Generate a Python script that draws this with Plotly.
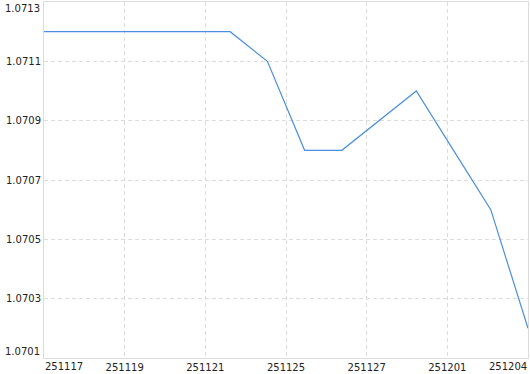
import plotly.graph_objects as go

dates = ["251117", "251118", "251119", "251120", "251121", "251124", "251125",
         "251126", "251127", "251128", "251201", "251202", "251203", "251204"]
values = [1.0712, 1.0712, 1.0712, 1.0712, 1.0712, 1.0712, 1.0711,
          1.0708, 1.0708, 1.0709, 1.0710, 1.0708, 1.0706, 1.0702]
x_tick_labels = ["251117", "251119", "251121", "251125", "251127", "251201", "251204"]
y_tick_vals = [1.0701, 1.0703, 1.0705, 1.0707, 1.0709, 1.0711, 1.0713]

n = len(dates)
xs = list(range(n))
x_max = n - 1
x_tick_pos = [x_max * k / (len(x_tick_labels) - 1) for k in range(len(x_tick_labels))]

FONT = dict(family="DejaVu Sans", size=10, color="#222")
GRID = "#dcdcdc"

fig = go.Figure()
fig.add_trace(go.Scatter(x=xs, y=values, mode="lines",
                         line=dict(color="#4a8fe0", width=1.2),
                         hoverinfo="skip"))

fig.update_layout(
    width=530, height=374,
    margin=dict(l=44, r=1, t=1, b=13),
    paper_bgcolor="white", plot_bgcolor="white",
    showlegend=False,
    font=FONT,
)

fig.update_xaxes(
    range=[0, x_max],
    tickmode="array",
    tickvals=x_tick_pos[1:-1],
    ticktext=x_tick_labels[1:-1],
    showgrid=True, gridcolor=GRID, griddash="4px,3px", gridwidth=1,
    showline=True, linecolor=GRID, linewidth=1, mirror=True,
    ticks="", ticklen=0, zeroline=False,
    tickfont=FONT,
)
fig.update_yaxes(
    range=[y_tick_vals[0], y_tick_vals[-1]],
    tickmode="array",
    tickvals=y_tick_vals[1:-1],
    ticktext=[f"{v:.4f}" for v in y_tick_vals[1:-1]],
    showgrid=True, gridcolor=GRID, griddash="4px,3px", gridwidth=1,
    showline=True, linecolor=GRID, linewidth=1, mirror=True,
    ticks="", ticklen=0, zeroline=False,
    tickfont=FONT,
)

# end labels shifted to stay inside the canvas
fig.add_annotation(x=x_tick_pos[0], y=0, xref="x", yref="paper", yanchor="top",
                   xanchor="left", text=x_tick_labels[0], showarrow=False,
                   font=FONT, xshift=-1, yshift=-1)
fig.add_annotation(x=x_tick_pos[-1], y=0, xref="x", yref="paper", yanchor="top",
                   xanchor="right", text=x_tick_labels[-1], showarrow=False,
                   font=FONT, xshift=1, yshift=-1)
fig.add_annotation(x=0, y=y_tick_vals[-1], xref="paper", yref="y", yanchor="top",
                   xanchor="right", text=f"{y_tick_vals[-1]:.4f}", showarrow=False,
                   font=FONT, xshift=-2, yshift=1)
fig.add_annotation(x=0, y=y_tick_vals[0], xref="paper", yref="y", yanchor="bottom",
                   xanchor="right", text=f"{y_tick_vals[0]:.4f}", showarrow=False,
                   font=FONT, xshift=-2, yshift=-1)

fig.write_html("out.html")
